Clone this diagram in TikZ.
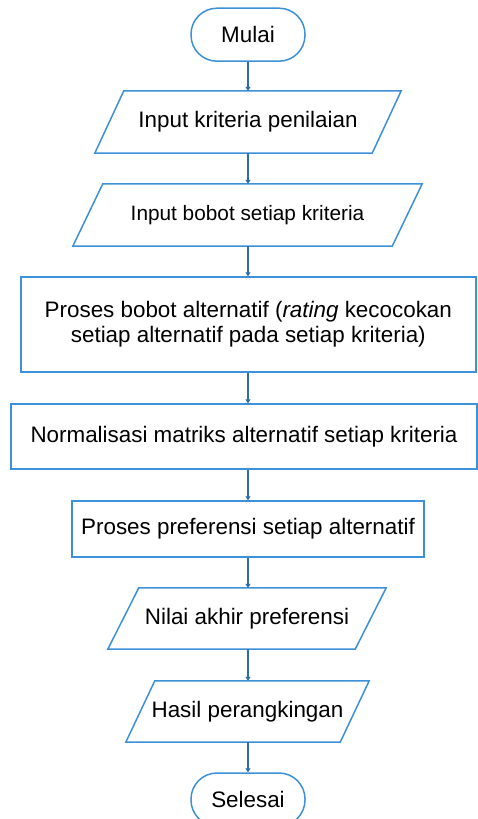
\documentclass[tikz,border=0pt]{standalone}
\usepackage{fontspec}
\setmainfont{Liberation Sans}
\usetikzlibrary{arrows.meta,calc}
\definecolor{shapeblue}{RGB}{61,145,216}
\definecolor{arrowblue}{RGB}{46,110,166}
\tikzset{
  box/.style={draw=shapeblue,line width=1.5pt,inner sep=0pt,align=center,
    font=\fontsize{22.4}{25}\selectfont},
  term/.style={box,rounded corners=26pt},
  paranode/.style={inner sep=0pt,align=center,font=\fontsize{22.4}{25}\selectfont},
  paraline/.style={draw=shapeblue,line width=1.5pt,line join=miter},
  arr/.style={draw=arrowblue,line width=1.8pt,-{Triangle[length=4pt,width=5pt]}}
}
\newcommand\drawpara[2]{%
  \path[paraline] (#1.south west) -- ($(#1.north west)+(#2,0)$) -- (#1.north east)
    -- ($(#1.south east)-(#2,0)$) -- cycle;}
\begin{document}
\begin{tikzpicture}[x=1pt,y=-1pt]
\useasboundingbox (0,0) rectangle (478,819);
\node[term,minimum width=114pt,minimum height=53pt] (m) at (248,34.7) {Mulai};
\node[paranode,minimum width=306pt,minimum height=62pt] (p1) at (248,122) {Input kriteria penilaian};
\drawpara{p1}{29}
\node[paranode,minimum width=349pt,minimum height=62pt,font=\fontsize{20.8}{24}\selectfont] (p2) at (247.5,215) {Input bobot setiap kriteria};
\drawpara{p2}{30}
\node[box,minimum width=455pt,minimum height=95pt] (r3) at (248.3,324.5) {Proses bobot alternatif (\textit{rating} kecocokan\\setiap alternatif pada setiap kriteria)};
\node[box,minimum width=466pt,minimum height=65pt] (r4) at (244,436.5) {Normalisasi matriks alternatif setiap kriteria};
\node[box,minimum width=352pt,minimum height=56pt] (r5) at (248,529) {Proses preferensi setiap alternatif};
\node[paranode,minimum width=278pt,minimum height=61pt] (p6) at (247,618.5) {Nilai akhir preferensi};
\drawpara{p6}{31}
\node[paranode,minimum width=243pt,minimum height=61pt] (p7) at (247.5,711.5) {Hasil perangkingan};
\drawpara{p7}{29}
\node[term,minimum width=114pt,minimum height=53pt] (s) at (248,799.5) {Selesai};
\draw[arr] (m.south) -- (p1.north -| m.south);
\draw[arr] (p1.south -| m.south) -- (p2.north -| m.south);
\draw[arr] (p2.south -| m.south) -- (r3.north -| m.south);
\draw[arr] (r3.south -| m.south) -- (r4.north -| m.south);
\draw[arr] (r4.south -| m.south) -- (r5.north -| m.south);
\draw[arr] (r5.south -| m.south) -- (p6.north -| m.south);
\draw[arr] (p6.south -| m.south) -- (p7.north -| m.south);
\draw[arr] (p7.south -| m.south) -- (s.north);
\end{tikzpicture}
\end{document}
